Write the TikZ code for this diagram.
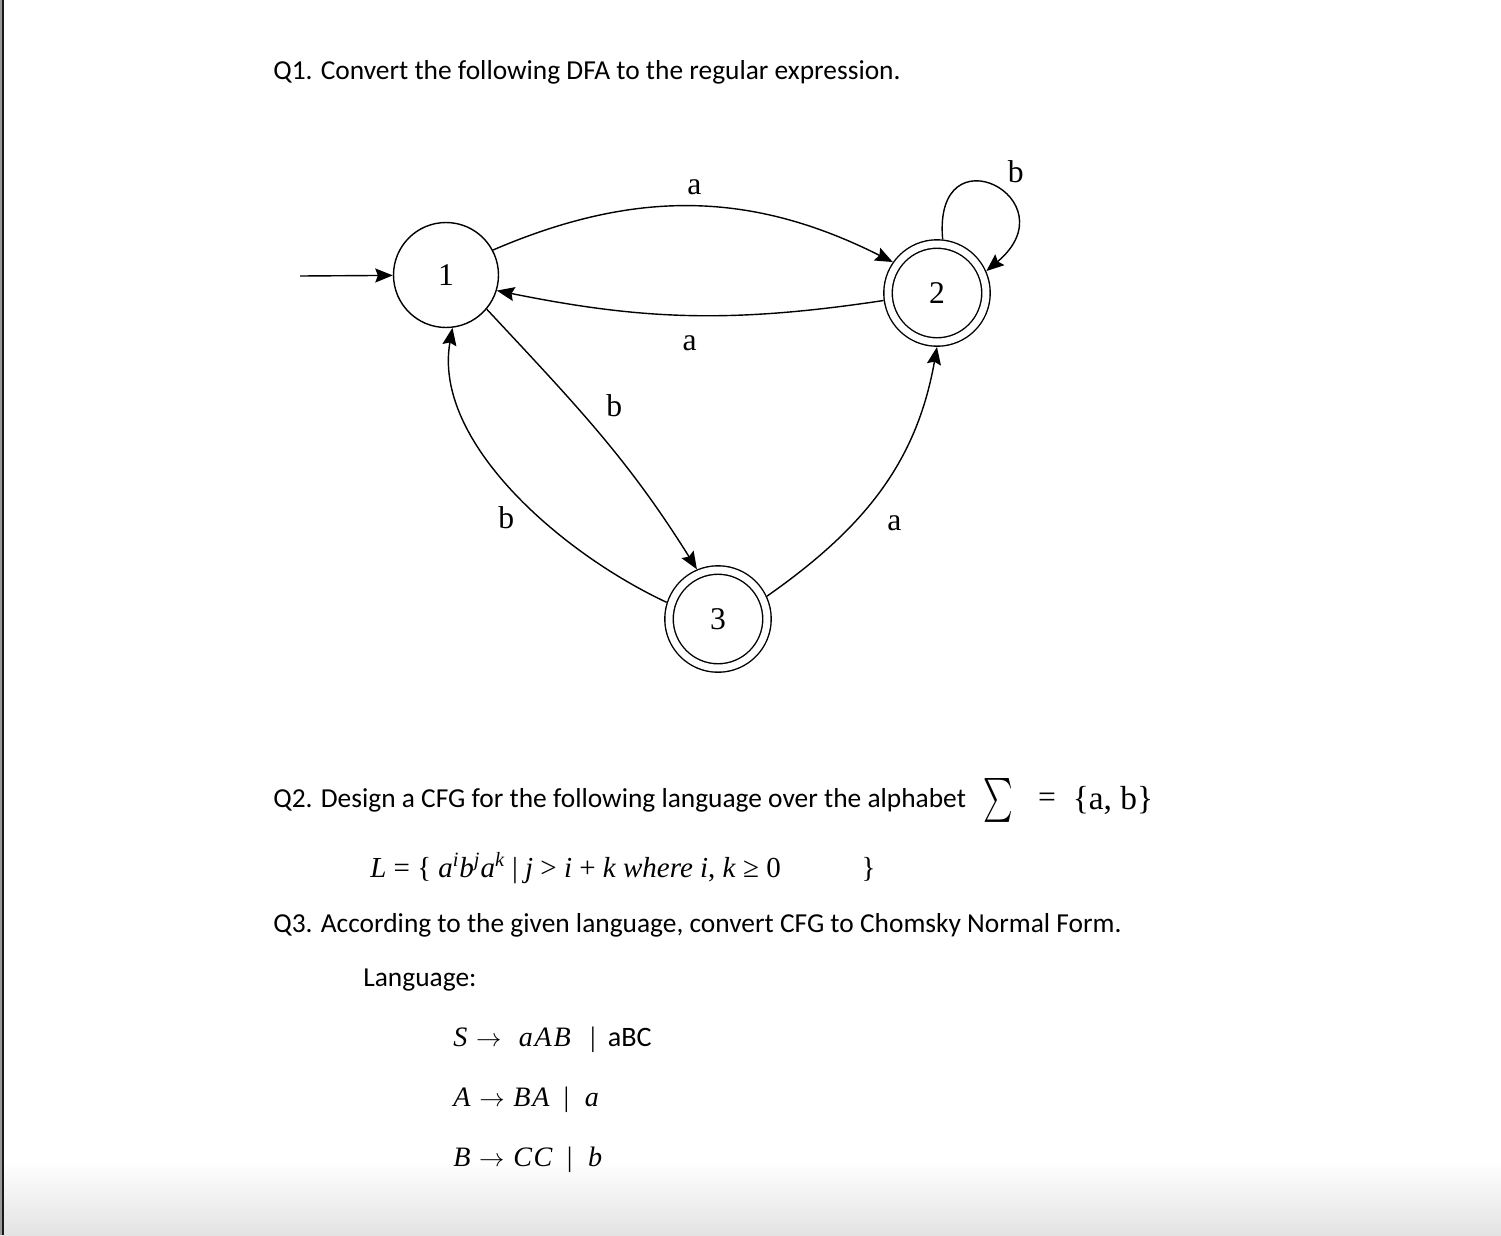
\documentclass[tikz,border=0pt]{standalone}
\usepackage{graphicx}
\usepackage{fontspec}
\setmainfont{Carlito}
\newfontfamily\tnr{Liberation Serif}
\newfontfamily\eqfont[LetterSpace=6]{Liberation Serif}
\usetikzlibrary{arrows.meta}

\newcommand{\prodarrow}{{\fontsize{15}{16}\selectfont$\rightarrow$}}

\tikzset{
  state/.style={circle,draw,line width=0.8pt,minimum size=2.1cm,inner sep=0pt,font=\tnr\fontsize{18}{20}\selectfont},
  accept/.style={state,double,double distance=0.14cm,minimum size=1.96cm,outer sep=0.1cm},
  lbl/.style={font=\tnr\fontsize{18}{20}\selectfont},
  trans/.style={->,line width=0.8pt},
  qtext/.style={anchor=west,inner sep=0pt,font=\fontsize{15.6}{18}\selectfont},
  gram/.style={anchor=west,inner sep=0pt,font=\eqfont\fontsize{16}{18}\selectfont},
}

\begin{document}
\begin{tikzpicture}[x=0.02cm,y=-0.02cm,>={Stealth[length=10pt,width=8pt,inset=1.5pt]}]
  \useasboundingbox (0,0) rectangle (1501,1235);
  % screenshot edges
  \shade[top color=white,bottom color=black!11] (0,1160) rectangle (1501,1235);
  \fill[black!40] (0,0) rectangle (2,1235);
  \draw[black!90,line width=1.2pt] (3,0) -- (3,1235);

  % Q1
  \node[qtext] (q1) at (273,72) {Q1. Convert the following DFA to the regular expression.};

  % the DFA
  \node[state] (s1) at (446,275) {1};
  \node[accept] (s2) at (937,293) {2};
  \node[accept] (s3) at (718,619) {3};
  \coordinate (init) at (300,276);

  \draw[trans] (init) -- (s1);
  \draw[trans] (s1.28) to[bend left=25] node[lbl,midway,above=3pt] {a} (s2.145);
  \draw[trans] (s2.188) to[bend left=10] node[lbl,midway,below=8pt] {a} (s1.-17);
  \draw[trans] (s2.84) to[out=95,in=40,looseness=5.3] node[lbl,pos=0.55,above right=1pt] {b} (s2.24);
  \draw[trans] (s1.-40) to[out=-47,in=122] node[lbl,pos=0.38,right=14pt] {b} (s3.113);
  \draw[trans] (s3.162) to[out=155,in=-100,looseness=0.85] node[lbl,pos=0.4,left=11pt] {b} (s1.-83);
  \draw[trans] (s3.25) to[out=35,in=-100] node[lbl,pos=0.35,right=16pt] {a} (s2.-90);

  % Q2
  \node[qtext] (q2) at (273,800) {Q2. Design a CFG for the following language over the alphabet};
  \node[inner sep=0pt] (sigma) at (998,800) {\scalebox{1.6}[2.5]{$\sum$}};
  \node[lbl] (eq) at (1047,800) {=};
  \node[lbl,font=\tnr\fontsize{19}{21}\selectfont] (alph) at (1113,800) {\{a, b\}};
  \node[gram,font=\tnr\fontsize{16.5}{18}\selectfont] (lang) at (370,868)
    {\textit{L} = \{ \textit{a\textsuperscript{i}b\textsuperscript{j}a\textsuperscript{k}} | \textit{j} > \textit{i} + \textit{k where i}, \textit{k} ≥ 0\hspace{46pt}\}};

  % Q3
  \node[qtext] (q3) at (273,925) {Q3. According to the given language, convert CFG to Chomsky Normal Form.};
  \node[qtext] (langlbl) at (363,980) {Language:};
  \node[gram] (ruleS) at (453,1040) {\textit{S}\hspace{4pt}\prodarrow\hspace{10pt}\textit{aAB}\hspace{10pt}|\hspace{7pt}{\normalfont aBC}};
  \node[gram] (ruleA) at (453,1100) {\textit{A}\hspace{4pt}\prodarrow\hspace{5pt}\textit{BA}\hspace{7pt}|\hspace{9pt}\textit{a}};
  \node[gram] (ruleB) at (453,1160) {\textit{B}\hspace{4pt}\prodarrow\hspace{5pt}\textit{CC}\hspace{7pt}|\hspace{9pt}\textit{b}};
\end{tikzpicture}
\end{document}
